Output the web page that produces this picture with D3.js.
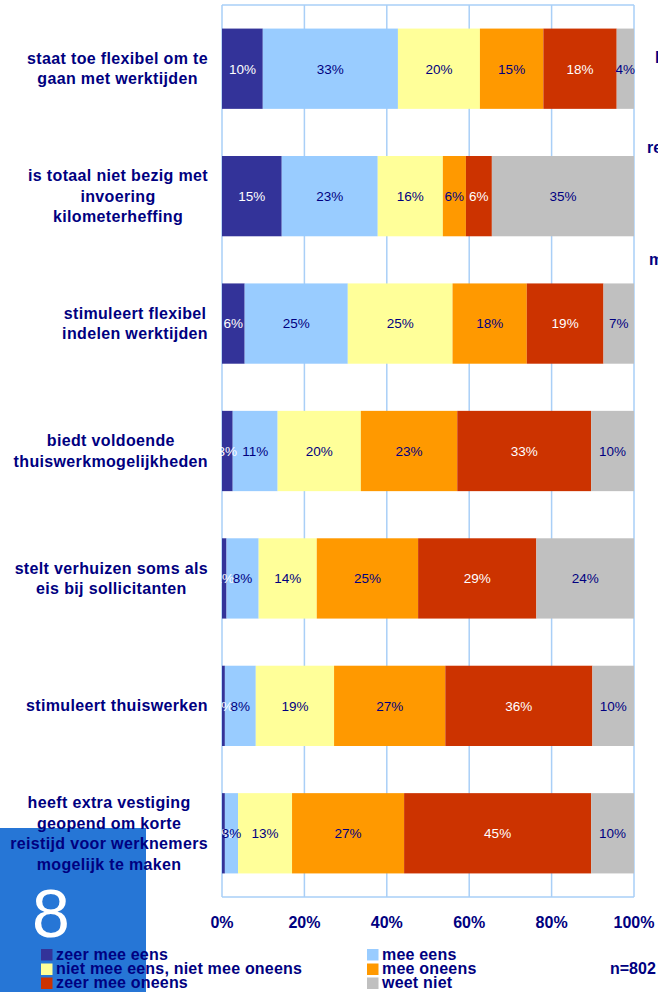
<!DOCTYPE html>
<html>
<head>
<meta charset="utf-8">
<script src="https://cdn.jsdelivr.net/npm/d3@7"></script>
<style>
  html, body { margin: 0; padding: 0; background: #fff; }
  svg { display: block; font-family: "Liberation Sans", Arial, sans-serif; }
</style>
</head>
<body>
<svg id="chart" width="658" height="992"></svg>
<script>
// ---- Data ----
const categories = [
  "staat toe flexibel om te gaan met werktijden",
  "is totaal niet bezig met invoering kilometerheffing",
  "stimuleert flexibel indelen werktijden",
  "biedt voldoende thuiswerkmogelijkheden",
  "stelt verhuizen soms als eis bij sollicitanten",
  "stimuleert thuiswerken",
  "heeft extra vestiging geopend om korte reistijd voor werknemers mogelijk te maken"
];
const categoryLines = [
  ["staat toe flexibel om te", "gaan met werktijden"],
  ["is totaal niet bezig met", "invoering", "kilometerheffing"],
  ["stimuleert flexibel", "indelen werktijden"],
  ["biedt voldoende", "thuiswerkmogelijkheden"],
  ["stelt verhuizen soms als", "eis bij sollicitanten"],
  ["stimuleert thuiswerken"],
  ["heeft extra vestiging", "geopend om korte", "reistijd voor werknemers", "mogelijk te maken"]
];
const seriesNames = [
  "zeer mee eens",
  "mee eens",
  "niet mee eens, niet mee oneens",
  "mee oneens",
  "zeer mee oneens",
  "weet niet"
];
const zeerMeeEens   = [9.9, 14.5, 5.5, 2.6, 1.1, 0.7, 0.7];
const meeEens       = [32.8, 23.3, 25.0, 10.9, 7.8, 7.5, 3.2];
const neutraal      = [19.9, 15.8, 25.4, 20.2, 14.1, 19.0, 13.1];
const meeOneens     = [15.4, 5.6, 18.0, 23.4, 24.6, 27.0, 27.2];
const zeerMeeOneens = [17.8, 6.3, 18.6, 32.5, 28.7, 35.7, 45.4];
const weetNiet      = [4.2, 34.5, 7.4, 10.4, 23.7, 10.1, 10.4];
const xTickValues = [0, 0.2, 0.4, 0.6, 0.8, 1.0];
const sampleNote = "n=802";
const pageNumber = "8";

const seriesValues = [zeerMeeEens, meeEens, neutraal, meeOneens, zeerMeeOneens, weetNiet];
const colors = ["#333399", "#99CCFF", "#FFFF99", "#FF9900", "#CC3300", "#C0C0C0"];
const labelColors = ["#ffffff", "#000080", "#000080", "#000080", "#ffffff", "#000080"];
const navy = "#000080";
const gridColor = "#a9cff7";

// ---- Build table ----
const table = categories.map((c, i) => {
  const row = { cat: c, idx: i };
  seriesNames.forEach((s, j) => row[s] = seriesValues[j][i]);
  return row;
});
const stacked = d3.stack().keys(seriesNames).offset(d3.stackOffsetExpand)(table);

// ---- Layout ----
const svg = d3.select("#chart");
const plot = { left: 222, right: 634, top: 5, bottom: 897 };

const x = d3.scaleLinear().domain([0, 1]).range([plot.left, plot.right]);
const y = d3.scaleBand().domain(categories).range([plot.top, plot.bottom])
  .paddingInner(0.37).paddingOuter(0.185);

// Blue page box (bottom-left)
svg.append("rect").attr("x", 0).attr("y", 828).attr("width", 146).attr("height", 164)
  .attr("fill", "#2676d6");
svg.append("text").attr("x", 51).attr("y", 937).attr("text-anchor", "middle")
  .attr("font-size", 68).attr("fill", "#ffffff").text(pageNumber);

// Gridlines
const g = svg.append("g");
g.selectAll("line.grid").data(xTickValues).join("line")
  .attr("class", "grid")
  .attr("x1", d => x(d)).attr("x2", d => x(d))
  .attr("y1", plot.top).attr("y2", plot.bottom)
  .attr("stroke", gridColor).attr("stroke-width", 1.5);
g.append("line").attr("x1", plot.left).attr("x2", plot.right)
  .attr("y1", plot.top).attr("y2", plot.top)
  .attr("stroke", gridColor).attr("stroke-width", 1.5);
g.append("line").attr("x1", plot.left).attr("x2", plot.right)
  .attr("y1", plot.bottom).attr("y2", plot.bottom)
  .attr("stroke", gridColor).attr("stroke-width", 1.5);

// Bars
const layers = svg.append("g").selectAll("g.layer").data(stacked).join("g")
  .attr("class", "layer").attr("fill", (d, i) => colors[i]);
layers.selectAll("rect").data(d => d).join("rect")
  .attr("x", d => x(d[0]))
  .attr("width", d => x(d[1]) - x(d[0]))
  .attr("y", d => y(d.data.cat))
  .attr("height", y.bandwidth());

// Bar labels
const labelLayers = svg.append("g").selectAll("g.lbl").data(stacked).join("g")
  .attr("fill", (d, i) => labelColors[i]);
labelLayers.each(function(layer, li) {
  d3.select(this).selectAll("text").data(layer).join("text")
    .attr("x", d => (x(d[0]) + x(d[1])) / 2)
    .attr("y", d => y(d.data.cat) + y.bandwidth() / 2)
    .attr("dy", "0.36em")
    .attr("text-anchor", "middle")
    .attr("font-size", 13.5)
    .text(d => Math.round(seriesValues[li][d.data.idx]) + "%");
});

// Category labels (lines centred, block right-aligned to the axis)
const lineH = 20.5;
const catG = svg.append("g");
categories.forEach((c, i) => {
  const lines = categoryLines[i];
  const cy = y(c) + y.bandwidth() / 2;
  const t = catG.append("text")
    .attr("font-size", 16).attr("font-weight", "bold")
    .attr("letter-spacing", 0.35).attr("fill", navy)
    .attr("text-anchor", "middle");
  const spans = lines.map((ln, k) => t.append("tspan")
    .attr("y", cy - (lines.length - 1) / 2 * lineH + 5.5 + k * lineH)
    .text(ln));
  const w = d3.max(spans, s => s.node().getComputedTextLength());
  const cx = 208 - w / 2;
  spans.forEach(s => s.attr("x", cx));
});

// X tick labels
svg.append("g").selectAll("text").data(xTickValues).join("text")
  .attr("x", d => x(d)).attr("y", 928)
  .attr("text-anchor", "middle")
  .attr("font-size", 16).attr("font-weight", "bold").attr("fill", navy)
  .text(d3.format(".0%"));

// Legend
const legendPos = [
  { x: 41, y: 949 }, { x: 367, y: 949 },
  { x: 41, y: 963.5 }, { x: 367, y: 963.5 },
  { x: 41, y: 977.5 }, { x: 367, y: 977.5 }
];
const legendOrder = [0, 1, 2, 3, 4, 5];
const leg = svg.append("g").selectAll("g").data(legendOrder).join("g")
  .attr("transform", (d, i) => `translate(${legendPos[i].x},${legendPos[i].y})`);
leg.append("rect").attr("width", 11.5).attr("height", 11.5).attr("fill", d => colors[d]);
leg.append("text").attr("x", 15).attr("y", 10.5)
  .attr("font-size", 16).attr("font-weight", "bold").attr("letter-spacing", 0.2)
  .attr("fill", navy).text(d => seriesNames[d]);

svg.append("text").attr("x", 610).attr("y", 974)
  .attr("font-size", 16).attr("font-weight", "bold").attr("fill", navy).text(sampleNote);

// Cut-off text fragments at right edge
const frags = [{ t: "l", x: 655, y: 63 }, { t: "re", x: 647, y: 153 }, { t: "m", x: 649, y: 265 }];
svg.append("g").selectAll("text").data(frags).join("text")
  .attr("x", d => d.x).attr("y", d => d.y)
  .attr("font-size", 16).attr("font-weight", "bold").attr("fill", navy)
  .text(d => d.t);
</script>
</body>
</html>
